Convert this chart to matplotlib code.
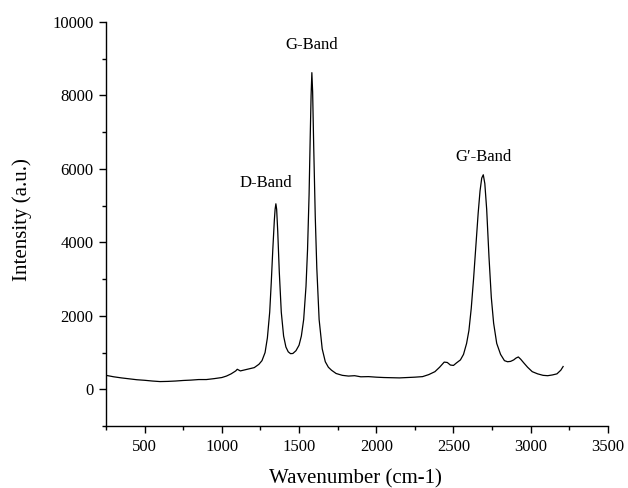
import matplotlib
matplotlib.use("Agg")
import matplotlib.pyplot as plt
from matplotlib.ticker import MultipleLocator

# Raman spectrum
wavenumber = [250, 300, 350, 400, 450, 500, 550, 600, 650, 700, 750, 800, 850, 900, 950,
              1000, 1030, 1060, 1090, 1100, 1120, 1150, 1180, 1210, 1240, 1260, 1280, 1295,
              1310, 1320, 1330, 1340, 1345, 1350, 1355, 1362, 1372, 1385, 1400, 1415, 1430,
              1445, 1460, 1480, 1500, 1515, 1530, 1545, 1555, 1565, 1572, 1578, 1583, 1588,
              1595, 1605, 1615, 1630, 1650, 1670, 1690, 1710, 1740, 1780, 1820, 1860, 1900,
              1950, 2000, 2050, 2100, 2150, 2200, 2250, 2300, 2340, 2380, 2410, 2440, 2460,
              2480, 2500, 2520, 2545, 2565, 2585, 2600, 2615, 2630, 2645, 2660, 2672, 2683,
              2693, 2703, 2715, 2730, 2745, 2760, 2780, 2805, 2830, 2850, 2870, 2890, 2905,
              2920, 2935, 2955, 2980, 3010, 3045, 3080, 3110, 3140, 3170, 3195, 3210]
intensity = [380, 340, 310, 285, 260, 245, 225, 210, 215, 225, 240, 250, 265, 265, 290,
             320, 360, 420, 500, 545, 500, 530, 560, 590, 680, 780, 1000, 1400,
             2100, 2900, 3800, 4600, 4900, 5050, 4900, 4300, 3200, 2100, 1450, 1150, 1020,
             970, 975, 1050, 1200, 1450, 1900, 2800, 3800, 5300, 6800, 8000, 8620, 8100,
             6600, 4700, 3300, 1900, 1100, 750, 600, 520, 430, 380, 360, 370, 340,
             345, 330, 320, 315, 310, 320, 330, 345, 400, 480, 600, 740, 730,
             660, 650, 720, 800, 950, 1250, 1600, 2200, 3000, 3900, 4800, 5400, 5750,
             5840, 5600, 4900, 3600, 2500, 1800, 1250, 950, 780, 750, 760, 800, 850,
             880, 820, 720, 600, 480, 420, 380, 370, 390, 420, 520, 620]

band_labels = ["D-Band", "G-Band", "G\u2032-Band"]
band_x = [1283, 1585, 2695]
band_y = [5610, 9370, 6320]

plt.rcParams['font.family'] = ['Liberation Serif', 'DejaVu Serif']

fig = plt.figure(figsize=(6.28, 4.88), dpi=100)
ax = fig.add_axes([0.1688, 0.127, 0.7992, 0.828])

ax.plot(wavenumber, intensity, color='black', lw=0.9)

for t, x, y in zip(band_labels, band_x, band_y):
    ax.text(x, y, t, ha='center', va='center', fontsize=12)

ax.set_xlim(250, 3500)
ax.set_ylim(-1000, 10000)
ax.xaxis.set_major_locator(MultipleLocator(500))
ax.xaxis.set_minor_locator(MultipleLocator(250))
ax.yaxis.set_major_locator(MultipleLocator(2000))
ax.yaxis.set_minor_locator(MultipleLocator(1000))

for s in ['top', 'right']:
    ax.spines[s].set_visible(False)
for s in ['left', 'bottom']:
    ax.spines[s].set_linewidth(1.0)

ax.tick_params(which='major', direction='out', length=5, width=1.0, labelsize=12, pad=4)
ax.tick_params(which='minor', direction='out', length=3, width=1.0)

ax.set_xlabel('Wavenumber (cm-1)', fontsize=15, va='center')
ax.set_ylabel('Intensity (a.u.)', fontsize=15, va='center')
ax.xaxis.set_label_coords(0.497, -0.131)
ax.yaxis.set_label_coords(-0.167, 0.512)

fig.savefig('out.png', dpi=100)
